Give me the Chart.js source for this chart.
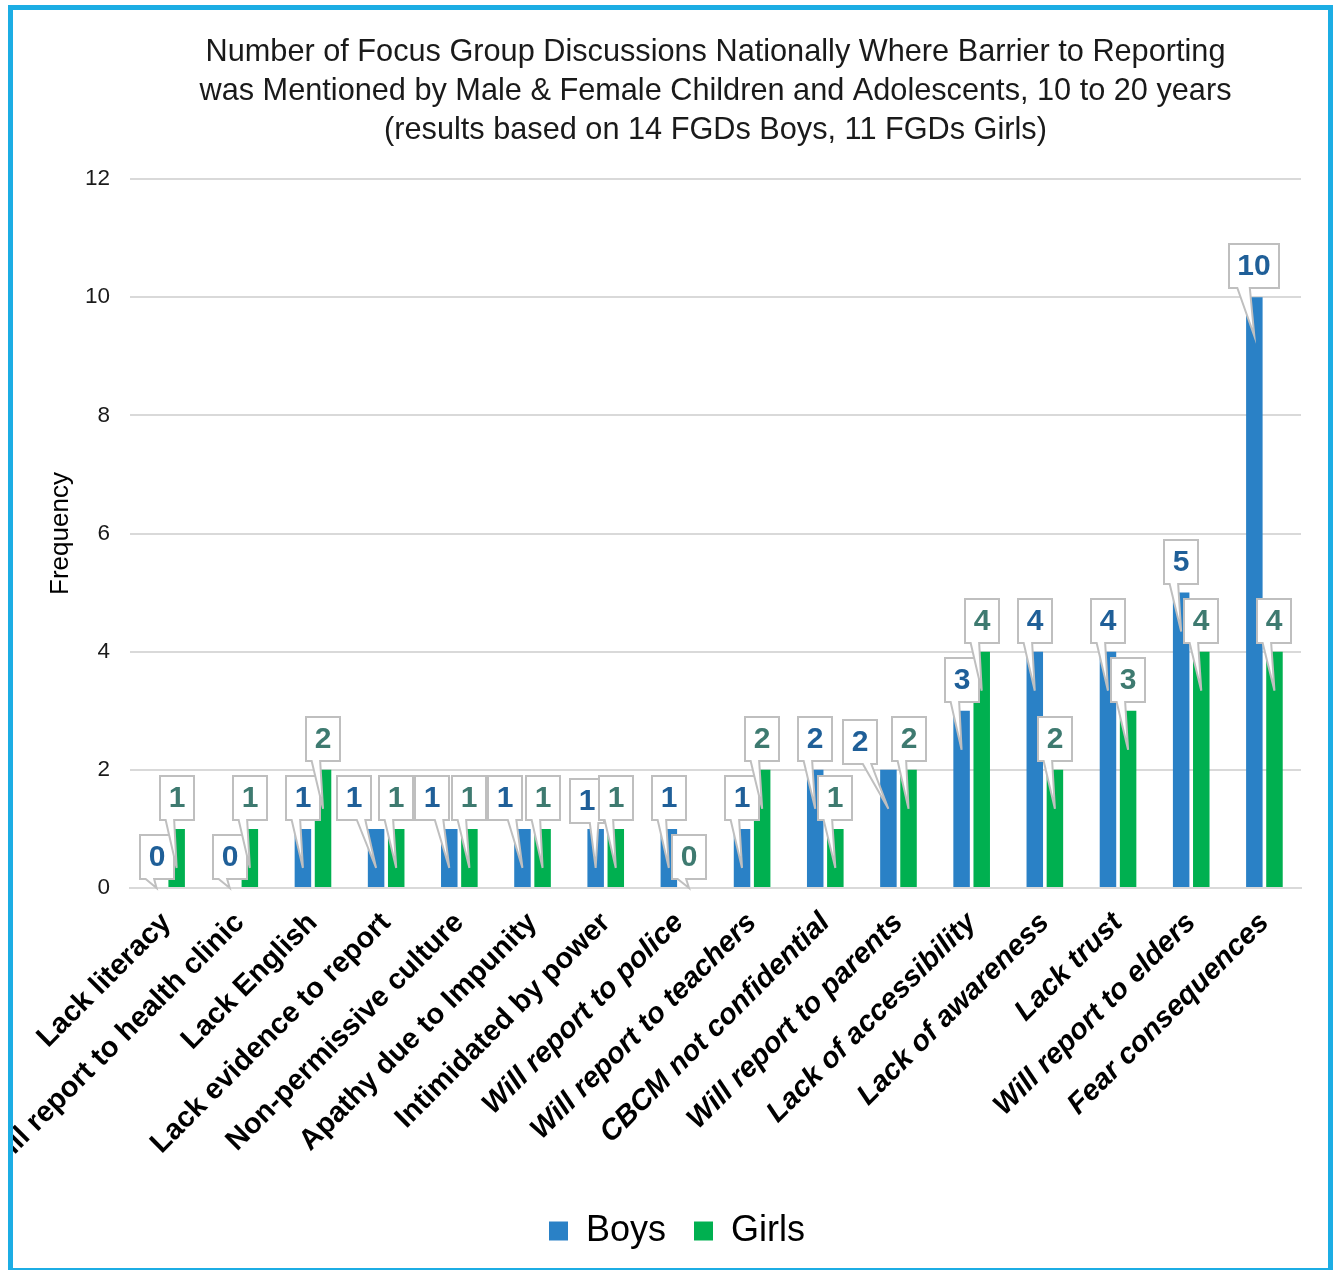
<!DOCTYPE html>
<html>
<head>
<meta charset="utf-8">
<script src="https://cdn.jsdelivr.net/npm/chart.js@4.4.1/dist/chart.umd.min.js"></script>
<style>
  html, body { margin: 0; padding: 0; background: #fff; overflow: hidden; width: 1333px; height: 1270px; }
  #frame { position: absolute; left: 8px; top: 5px; width: 1315px; height: 1258px; border: 5px solid #1cade4; background: #fff; }
  canvas { display: block; }
</style>
</head>
<body>
<div id="frame"><canvas id="chart" width="1315" height="1258"></canvas></div>
<script>
// Barriers to reporting, ordered by frequency
const categories = [
  "Lack literacy", "Will report to health clinic", "Lack English", "Lack evidence to report",
  "Non-permissive culture", "Apathy due to Impunity", "Intimidated by power", "Will report to police",
  "Will report to teachers", "CBCM not confidential", "Will report to parents", "Lack of accessibility",
  "Lack of awareness", "Lack trust", "Will report to elders", "Fear consequences"
];
const boys  = [0, 0, 1, 1, 1, 1, 1, 1, 1, 2, 2, 3, 4, 4, 5, 10];
const girls = [1, 1, 2, 1, 1, 1, 1, 0, 2, 1, 2, 4, 2, 3, 4, 4];
const yTicks = [0, 2, 4, 6, 8, 10, 12];
const titleLines = [
  "Number of Focus Group Discussions Nationally Where Barrier to Reporting",
  "was Mentioned by Male & Female Children and Adolescents, 10 to 20 years",
  "(results based on 14 FGDs Boys, 11 FGDs Girls)"
];
// labels from this index on are set in italics
const italicFrom = 7;

const SANS = '"Liberation Sans", Arial, sans-serif';

// Callout boxes nudged sideways so they do not collide: index -> [dx, dy]
const calloutShift = [
  { 3: [-22, 0], 4: [-17, 0], 5: [-17, 0], 6: [-9, 3], 10: [-28, 3] },
  {}
];

const calloutPlugin = {
  id: 'callouts',
  afterDatasetsDraw(chart) {
    const ctx = chart.ctx;
    chart.data.datasets.forEach((ds, di) => {
      const meta = chart.getDatasetMeta(di);
      const shifts = calloutShift[di] || {};
      meta.data.forEach((bar, i) => {
        const text = String(ds.data[i]);
        ctx.save();
        ctx.font = 'bold 30px ' + SANS;
        const tw = ctx.measureText(text).width;
        const w = Math.round(tw + 17), h = 44;
        const s = shifts[i] || [0, 0];
        const tipX = bar.x;
        const tipY = Math.min(bar.y + 39, bar.base);
        const cx = Math.round(bar.x + s[0]);
        const bottom = Math.round(bar.y - 9 + s[1]);
        const left = Math.round(cx - w / 2), right = left + w, top = bottom - h;
        const toRight = tipX > cx + 1;
        const x1 = left + w * (toRight ? 7 : 2) / 12;
        const x2 = left + w * (toRight ? 10 : 5) / 12;
        ctx.beginPath();
        ctx.moveTo(left, top);
        ctx.lineTo(right, top);
        ctx.lineTo(right, bottom);
        ctx.lineTo(x2, bottom);
        ctx.lineTo(tipX, tipY);
        ctx.lineTo(x1, bottom);
        ctx.lineTo(left, bottom);
        ctx.closePath();
        ctx.fillStyle = '#ffffff';
        ctx.fill();
        ctx.strokeStyle = '#bfbfbf';
        ctx.lineWidth = 2;
        ctx.stroke();
        ctx.fillStyle = ds.calloutColor;
        ctx.textAlign = 'center';
        ctx.textBaseline = 'middle';
        ctx.fillText(text, cx, top + h / 2 + 1);
        ctx.restore();
      });
    });
  }
};

new Chart(document.getElementById('chart'), {
  type: 'bar',
  data: {
    labels: categories,
    datasets: [
      { label: 'Boys', data: boys, backgroundColor: '#2a81c6', calloutColor: '#1f5f98',
        categoryPercentage: 0.55, barPercentage: 0.82 },
      { label: 'Girls', data: girls, backgroundColor: '#00b050', calloutColor: '#3e7a70',
        categoryPercentage: 0.55, barPercentage: 0.82 }
    ]
  },
  options: {
    responsive: false,
    animation: false,
    devicePixelRatio: 1,
    layout: { padding: { left: 40, right: 27, top: 0, bottom: 9 } },
    plugins: {
      title: {
        display: true,
        fullSize: false,
        text: titleLines,
        color: '#1a1a1a',
        font: { family: SANS, size: 30.7, weight: 'normal', lineHeight: '39px' },
        padding: { top: 23, bottom: 29 }
      },
      legend: {
        position: 'bottom',
        labels: {
          boxWidth: 19, boxHeight: 19, color: '#000', padding: 28,
          font: { family: SANS, size: 36 }
        }
      },
      tooltip: { enabled: false }
    },
    scales: {
      x: {
        grid: { display: false },
        border: { color: '#d9d9d9', width: 2 },
        ticks: {
          autoSkip: false, minRotation: 45, maxRotation: 45, padding: 10, color: '#000',
          font: (c) => ({ family: SANS, size: 29, weight: 'bold', style: c.index >= italicFrom ? 'italic' : 'normal' })
        },
        afterFit: (s) => { s.height = 297; }
      },
      y: {
        min: 0, max: 12,
        afterBuildTicks: (s) => { s.ticks = yTicks.map(v => ({ value: v })); },
        grid: { color: '#d9d9d9', lineWidth: 2, drawTicks: false },
        border: { display: false },
        ticks: { padding: 20, color: '#1a1a1a', font: { family: SANS, size: 22.5 } },
        title: { display: true, text: 'Frequency', color: '#000', font: { family: SANS, size: 26 }, padding: { top: -8, bottom: 0 } },
        afterFit: (s) => { s.width = 77; }
      }
    }
  },
  plugins: [calloutPlugin]
});
</script>
</body>
</html>
